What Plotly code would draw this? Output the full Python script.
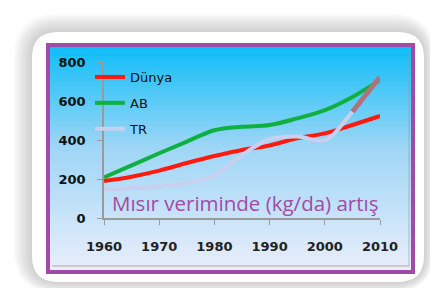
import plotly.graph_objects as go

years = [1960, 1965, 1970, 1975, 1980, 1985, 1990, 1995, 2000, 2005, 2010]
dunya = [190, 212, 243, 282, 318, 349, 372, 409, 434, 477, 523]
ab = [208, 270, 332, 392, 450, 468, 477, 511, 553, 621, 707]
tr = [148, 152, 162, 180, 218, 323, 404, 418, 400, 545, 723]
x_ticks = [1960, 1970, 1980, 1990, 2000, 2010]
y_ticks = [0, 200, 400, 600, 800]
title_text = "Mısır veriminde (kg/da) artış"

W, H = 430, 288
L, R, T, B = 104, 50, 62, 70
PW, PH = W - L - R, H - T - B


def px(xp):
    return (xp - L) / PW


def py(yp):
    return (H - B - yp) / PH


def lerp(c1, c2, t):
    return tuple(int(round(a + (b - a) * t)) for a, b in zip(c1, c2))


def rounded(x0, y0, x1, y1, r):
    return (f"M {px(x0+r)},{py(y0)} L {px(x1-r)},{py(y0)} Q {px(x1)},{py(y0)} {px(x1)},{py(y0+r)} "
            f"L {px(x1)},{py(y1-r)} Q {px(x1)},{py(y1)} {px(x1-r)},{py(y1)} "
            f"L {px(x0+r)},{py(y1)} Q {px(x0)},{py(y1)} {px(x0)},{py(y1-r)} "
            f"L {px(x0)},{py(y0+r)} Q {px(x0)},{py(y0)} {px(x0+r)},{py(y0)} Z")


shapes = []
# soft shadow of the card
for i in range(8):
    d = 18 - i * 2.2
    shapes.append(dict(type="path", xref="paper", yref="paper",
                       path=rounded(32 - d, 32 - d, 424 + d * 0.6, 282 + d * 0.6, 26 + d),
                       fillcolor="rgba(110,110,110,0.045)", line=dict(width=0), layer="below"))
shapes.append(dict(type="path", xref="paper", yref="paper", path=rounded(32, 32, 424, 282, 26),
                   fillcolor="white", line=dict(width=0), layer="below"))

# gradient background inside the purple frame
top_c, mid_c, bot_c = (16, 190, 248), (158, 214, 246), (232, 238, 251)
gy0, gy1 = 46, 271
n = 45
for i in range(n):
    t = i / (n - 1)
    c = lerp(top_c, mid_c, t / 0.45) if t < 0.45 else lerp(mid_c, bot_c, (t - 0.45) / 0.55)
    ya = gy0 + (gy1 - gy0) * i / n
    yb = gy0 + (gy1 - gy0) * (i + 1) / n + 0.6
    shapes.append(dict(type="rect", xref="paper", yref="paper", x0=px(49), x1=px(412),
                       y0=py(ya), y1=py(yb), fillcolor=f"rgb{c}", line=dict(width=0), layer="below"))
# inner grey edges
shapes.append(dict(type="line", xref="paper", yref="paper", x0=px(52), x1=px(409), y0=py(266), y1=py(266),
                   line=dict(color="rgba(150,150,160,0.8)", width=1.2), layer="below"))
shapes.append(dict(type="line", xref="paper", yref="paper", x0=px(409), x1=px(409), y0=py(50), y1=py(266),
                   line=dict(color="rgba(150,150,160,0.6)", width=1), layer="below"))
# purple frame
shapes.append(dict(type="rect", xref="paper", yref="paper", x0=px(48), x1=px(413), y0=py(45), y1=py(272),
                   fillcolor="rgba(0,0,0,0)", line=dict(color="#A24BA6", width=4), layer="below"))

fig = go.Figure()
fig.add_trace(go.Scatter(x=years, y=dunya, name="Dünya", mode="lines", legendgroup="a",
                         line=dict(color="#FF1A10", width=4, shape="spline")))
fig.add_trace(go.Scatter(x=years, y=ab, name="AB", mode="lines", legendgroup="b",
                         line=dict(color="#10B040", width=4, shape="spline")))
fig.add_trace(go.Scatter(x=years, y=tr, name="TR", mode="lines", legendgroup="c",
                         line=dict(color="#C9CFEE", width=4, shape="spline")))
fig.add_trace(go.Scatter(x=years[-2:], y=tr[-2:], mode="lines", showlegend=False, hoverinfo="skip",
                         line=dict(color="#B0707C", width=5)))

fig.add_annotation(x=0.512, y=0.097, xref="paper", yref="paper", text=title_text, showarrow=False,
                   font=dict(family="Open Sans", size=20.5, color="#A24BA6"), xanchor="center", yanchor="middle")

fig.update_layout(
    width=W, height=H,
    margin=dict(l=L, r=R, t=T, b=B),
    paper_bgcolor="white",
    plot_bgcolor="#EAEA44",
    shapes=shapes,
    showlegend=True,
    legend=dict(x=px(90), y=py(62), xanchor="left", yanchor="top", bgcolor="rgba(0,0,0,0)",
                font=dict(family="DejaVu Sans", size=13, color="#111"), tracegroupgap=6,
                itemwidth=30),
    xaxis=dict(range=[1960, 2010], tickvals=x_ticks, showgrid=False, zeroline=False,
               showline=True, linecolor="#9A9A9A", linewidth=1.5, ticks="outside", ticklen=5,
               tickcolor="#9A9A9A", ticklabelstandoff=11,
               tickfont=dict(family="DejaVu Sans", size=13, color="#222", weight="bold")),
    yaxis=dict(range=[0, 800], tickvals=y_ticks, showgrid=False, zeroline=False,
               showline=True, linecolor="#9A9A9A", linewidth=1.5, ticks="outside", ticklen=5,
               tickcolor="#9A9A9A", ticklabelstandoff=9,
               tickfont=dict(family="DejaVu Sans", size=13, color="#111", weight="bold")),
)

fig.write_html("out.html")
